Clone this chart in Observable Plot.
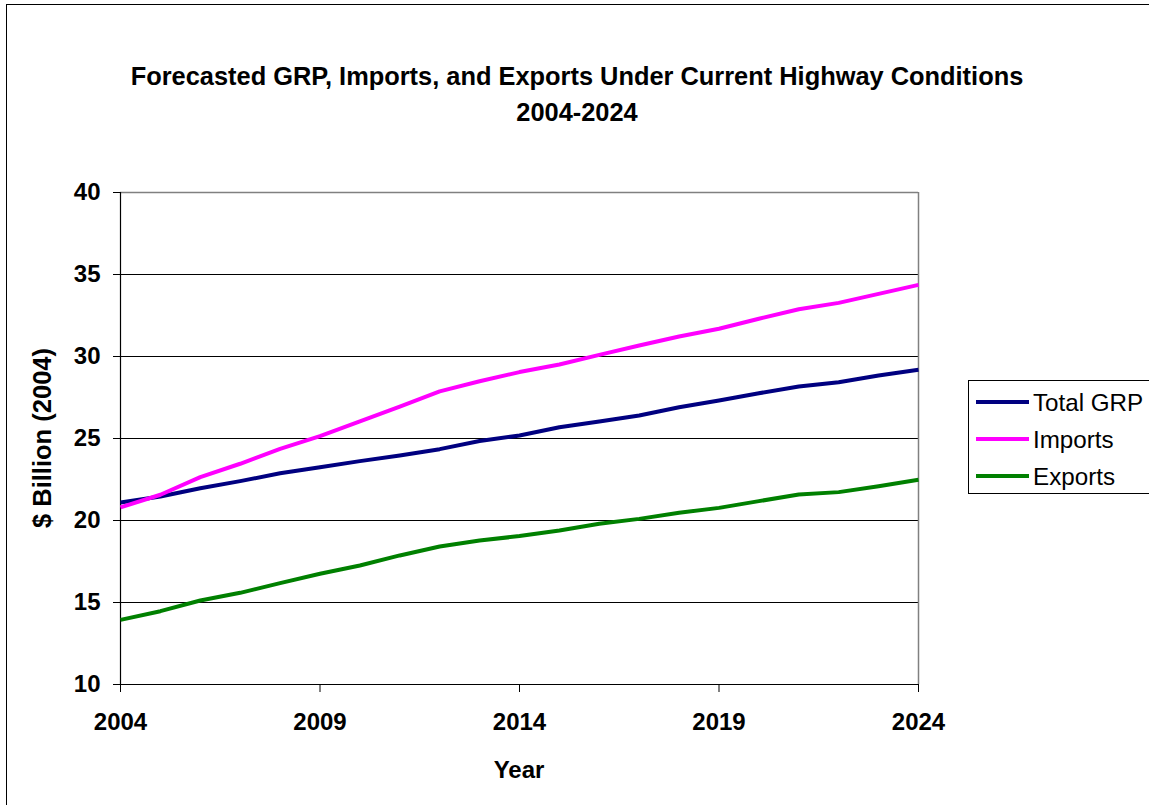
<!DOCTYPE html>
<html>
<head>
<meta charset="utf-8">
<script src="https://cdn.jsdelivr.net/npm/d3@7"></script>
<script src="https://cdn.jsdelivr.net/npm/@observablehq/plot@0.6"></script>
<style>
  html, body { margin: 0; padding: 0; background: #fff; }
  #chart svg { display: block; }
</style>
</head>
<body>
<div id="chart"></div>
<script>
const years = [2004,2005,2006,2007,2008,2009,2010,2011,2012,2013,2014,2015,2016,2017,2018,2019,2020,2021,2022,2023,2024];
const totalGRP = [21.1,21.46,21.97,22.4,22.88,23.25,23.62,23.96,24.35,24.85,25.18,25.69,26.04,26.4,26.91,27.32,27.76,28.17,28.43,28.84,29.19];
const imports = [20.8,21.57,22.64,23.46,24.37,25.14,26.04,26.95,27.87,28.49,29.05,29.51,30.1,30.67,31.22,31.69,32.3,32.88,33.27,33.82,34.37];
const exports = [13.94,14.47,15.12,15.59,16.18,16.75,17.26,17.87,18.41,18.78,19.05,19.39,19.8,20.1,20.47,20.77,21.18,21.59,21.73,22.09,22.48];

const seriesNames = ["Total GRP", "Imports", "Exports"];
const seriesColors = ["#000080", "#FF00FF", "#008000"];
const seriesValues = [totalGRP, imports, exports];

const xTicks = [2004, 2009, 2014, 2019, 2024];
const yTicks = [10, 15, 20, 25, 30, 35, 40];
const gridTicks = [15, 20, 25, 30, 35];

const titleLines = ["Forecasted GRP, Imports, and Exports Under Current Highway Conditions", "2004-2024"];
const xLabel = "Year";
const yLabel = "$ Billion (2004)";

const rows = [];
seriesNames.forEach((name, i) => {
  years.forEach((yr, j) => rows.push({series: name, year: yr, value: seriesValues[i][j]}));
});

const W = 1149, H = 805;
const chart = Plot.plot({
  width: W,
  height: H,
  marginLeft: 120,
  marginRight: 231,
  marginTop: 192,
  marginBottom: 121,
  style: {fontFamily: "'Liberation Sans', Arial, sans-serif", fontSize: "24px", fontWeight: "bold", color: "#000", background: "#fff"},
  x: {domain: [2004, 2024]},
  y: {domain: [10, 40]},
  color: {domain: seriesNames, range: seriesColors},
  marks: [
    Plot.gridY(gridTicks, {stroke: "#000", strokeOpacity: 1, strokeWidth: 1}),
    Plot.ruleY([40], {stroke: "#808080", strokeWidth: 1.5}),
    Plot.ruleX([2024], {stroke: "#808080", strokeWidth: 1.5}),
    Plot.axisY(yTicks, {tickSize: 7, tickPadding: 13, label: null, fontSize: 24, fontWeight: "bold", stroke: "#000"}),
    Plot.axisX(xTicks, {tickSize: 8, tickPadding: 20, tickFormat: d => String(d), label: null, fontSize: 24, fontWeight: "bold", stroke: "#000"}),
    Plot.ruleX([2004], {stroke: "#000", strokeWidth: 1.2}),
    Plot.ruleY([10], {stroke: "#000", strokeWidth: 1.2}),
    Plot.line(rows, {x: "year", y: "value", z: "series", stroke: "series", strokeWidth: 4, strokeLinejoin: "round", strokeLinecap: "butt"})
  ]
});
document.getElementById("chart").appendChild(chart);

const svg = d3.select(chart);
const FONT = "'Liberation Sans', Arial, sans-serif";
// outer chart border
svg.append("rect").attr("x", 6.5).attr("y", 4.5).attr("width", 1160).attr("height", 820)
  .attr("fill", "none").attr("stroke", "#000").attr("stroke-width", 1);

// title
const t = svg.append("text").attr("text-anchor", "middle")
  .style("font-family", FONT).style("font-weight", "bold").style("font-size", "25.4px");
t.append("tspan").attr("x", 577).attr("y", 85).text(titleLines[0]);
t.append("tspan").attr("x", 577).attr("y", 121).text(titleLines[1]);

// axis labels
svg.append("text").attr("x", 519).attr("y", 778).attr("text-anchor", "middle")
  .style("font-family", FONT).style("font-weight", "bold").style("font-size", "24px")
  .text(xLabel);
svg.append("text").attr("transform", "translate(51,438) rotate(-90)").attr("text-anchor", "middle")
  .style("font-family", FONT).style("font-weight", "bold").style("font-size", "25.5px")
  .text(yLabel);

// legend
const lg = svg.append("g");
lg.append("rect").attr("x", 968.5).attr("y", 380.5).attr("width", 200).attr("height", 113)
  .attr("fill", "#fff").attr("stroke", "#000").attr("stroke-width", 1);
const legendY = [402, 439, 476];
seriesNames.forEach((name, i) => {
  lg.append("line").attr("x1", 976).attr("x2", 1029).attr("y1", legendY[i]).attr("y2", legendY[i])
    .attr("stroke", seriesColors[i]).attr("stroke-width", 4);
  lg.append("text").attr("x", 1033).attr("y", legendY[i]).attr("dy", "0.36em").attr("text-anchor", "start")
    .style("font-family", FONT).style("font-size", "24.2px").style("font-weight", "normal")
    .attr("fill", "#000").text(name);
});
</script>
</body>
</html>
